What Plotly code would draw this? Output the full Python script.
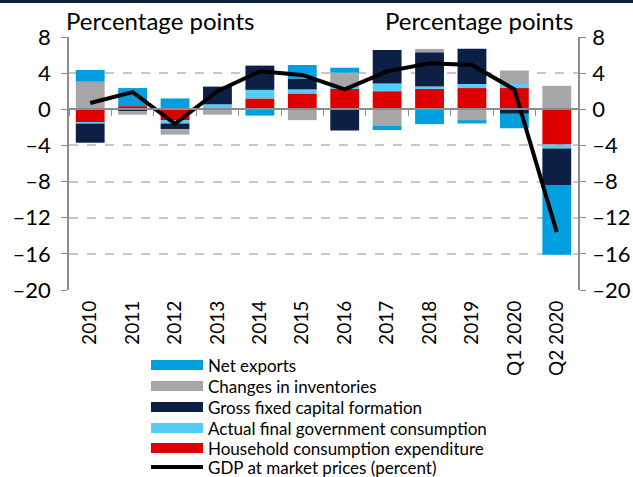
import plotly.graph_objects as go

categories = ["2010", "2011", "2012", "2013", "2014", "2015", "2016",
              "2017", "2018", "2019", "Q1 2020", "Q2 2020"]
household = [-1.5, 0.35, -1.2, 0.0, 1.2, 1.75, 2.3, 2.0, 2.25, 2.35, 2.35, -3.9]
government = [-0.1, 0.0, -0.37, 0.55, 0.95, 0.45, 0.1, 0.85, 0.26, 0.44, 0.44, -0.44]
gfcf = [-2.1, -0.2, -0.63, 1.96, 2.65, 1.2, -2.35, 3.7, 3.8, 3.9, -0.5, -4.05]
inventories = [3.05, -0.4, -0.6, -0.6, 0.1, -1.2, 1.65, -1.85, 0.37, -1.2, 1.5, 2.6]
net_exports = [1.3, 2.0, 1.2, 0.0, -0.7, 1.5, 0.55, -0.45, -1.65, -0.37, -1.6, -7.7]
gdp = [0.7, 1.9, -1.6, 2.0, 4.2, 3.8, 2.2, 4.2, 5.1, 4.9, 2.2, -13.6]
y_ticks = [8, 4, 0, -4, -8, -12, -16, -20]

FONT = "Lato"
W, H = 633, 477
ML, MR, MT, MB = 69, 55, 37, 187
PW, PH = W - ML - MR, H - MT - MB


def px(xp):  # pixel x -> paper x
    return (xp - ML) / PW


def py(yp):  # pixel y -> paper y
    return (H - MB - yp) / PH


fig = go.Figure()

series = [
    ("Household consumption expenditure", household, "#DE0000"),
    ("Actual final government consumption", government, "#55CCF8"),
    ("Gross fixed capital formation", gfcf, "#0C1F45"),
    ("Changes in inventories", inventories, "#A6A6A6"),
    ("Net exports", net_exports, "#009FDF"),
]
for name, vals, col in series:
    fig.add_trace(go.Bar(x=categories, y=vals, name=name, marker_color=col,
                         marker_line_width=0, showlegend=False))

gdp_name = "GDP at market prices (percent)"
fig.add_trace(go.Scatter(x=categories, y=gdp, name=gdp_name, mode="lines",
                         line=dict(color="black", width=4), showlegend=False))

# invisible helpers for the zero-line axis and right axis
fig.add_trace(go.Scatter(x=categories, y=[None] * len(categories), xaxis="x2",
                         showlegend=False, hoverinfo="skip"))
fig.add_trace(go.Scatter(x=categories, y=[None] * len(categories), yaxis="y2",
                         showlegend=False, hoverinfo="skip"))

yr = [min(y_ticks), max(y_ticks)]
tick_text = [str(v).replace("-", "\u2013") for v in y_ticks]
axis_common = dict(range=yr, tickvals=y_ticks, ticktext=tick_text,
                   showline=True, linecolor="#8C8C8C", linewidth=1.5,
                   ticks="outside", ticklen=6, tickcolor="#8C8C8C",
                   tickfont=dict(family=FONT, size=22, color="black"),
                   zeroline=False, automargin=False)

# custom legend (swatches + real text), in reference order
legend_rows = [(n, c) for n, _, c in reversed(series)]
row_y = [365, 386, 407, 428, 448, 467]
shapes = [dict(type="rect", xref="paper", yref="paper",
               x0=-ML / PW, x1=1 + MR / PW, y0=1 + MT / PH - 3 / PH,
               y1=1 + MT / PH, fillcolor="#0C2340", line_width=0)]
annotations = []
for (name, col), yc in zip(legend_rows, row_y[:5]):
    shapes.append(dict(type="rect", xref="paper", yref="paper",
                       x0=px(151), x1=px(203), y0=py(yc + 5), y1=py(yc - 5),
                       fillcolor=col, line_width=0))
    annotations.append(dict(text=name, x=px(206), y=py(yc), xref="paper", yref="paper",
                            xanchor="left", yanchor="middle", showarrow=False,
                            font=dict(family=FONT, size=17, color="black")))
shapes.append(dict(type="line", xref="paper", yref="paper",
                   x0=px(151), x1=px(203), y0=py(row_y[5]), y1=py(row_y[5]),
                   line=dict(color="black", width=4)))
annotations.append(dict(text=gdp_name, x=px(206), y=py(row_y[5]), xref="paper",
                        yref="paper", xanchor="left", yanchor="middle", showarrow=False,
                        font=dict(family=FONT, size=17, color="black")))

annotations += [
    dict(text="Percentage points", x=px(64), y=py(21), xref="paper", yref="paper",
         xanchor="left", yanchor="middle", showarrow=False,
         font=dict(family=FONT, size=24, color="black")),
    dict(text="Percentage points", x=px(576), y=py(21), xref="paper", yref="paper",
         xanchor="right", yanchor="middle", showarrow=False,
         font=dict(family=FONT, size=24, color="black")),
]

fig.update_layout(
    width=W, height=H,
    margin=dict(l=ML, r=MR, t=MT, b=MB, autoexpand=False),
    paper_bgcolor="white", plot_bgcolor="white",
    barmode="relative", bargap=0.32,
    showlegend=False,
    xaxis=dict(type="category", categoryorder="array", categoryarray=categories,
               range=[-0.5, 11.5], showline=False, ticks="", tickangle=-90,
               ticklabelstandoff=6, automargin=False,
               tickfont=dict(family=FONT, size=19, color="black"), showgrid=False),
    xaxis2=dict(type="category", categoryorder="array", categoryarray=categories,
                range=[-0.5, 11.5], overlaying="x", anchor="free",
                position=20 / 28, side="bottom", showline=True, linecolor="#8C8C8C",
                linewidth=2, ticks="outside", ticklen=6, tickcolor="#8C8C8C",
                tickson="boundaries", showticklabels=False, showgrid=False),
    yaxis=dict(**axis_common, showgrid=True, gridcolor="#C8C8C8",
               griddash="dash", gridwidth=1.5, ticklabelstandoff=6),
    yaxis2=dict(**axis_common, overlaying="y", side="right", showgrid=False,
                ticklabelstandoff=2),
    annotations=annotations,
    shapes=shapes,
)

fig.write_html("out.html", config={"displayModeBar": False},
               post_script="document.body.style.margin='0';"
                           "document.body.style.overflow='hidden';")
